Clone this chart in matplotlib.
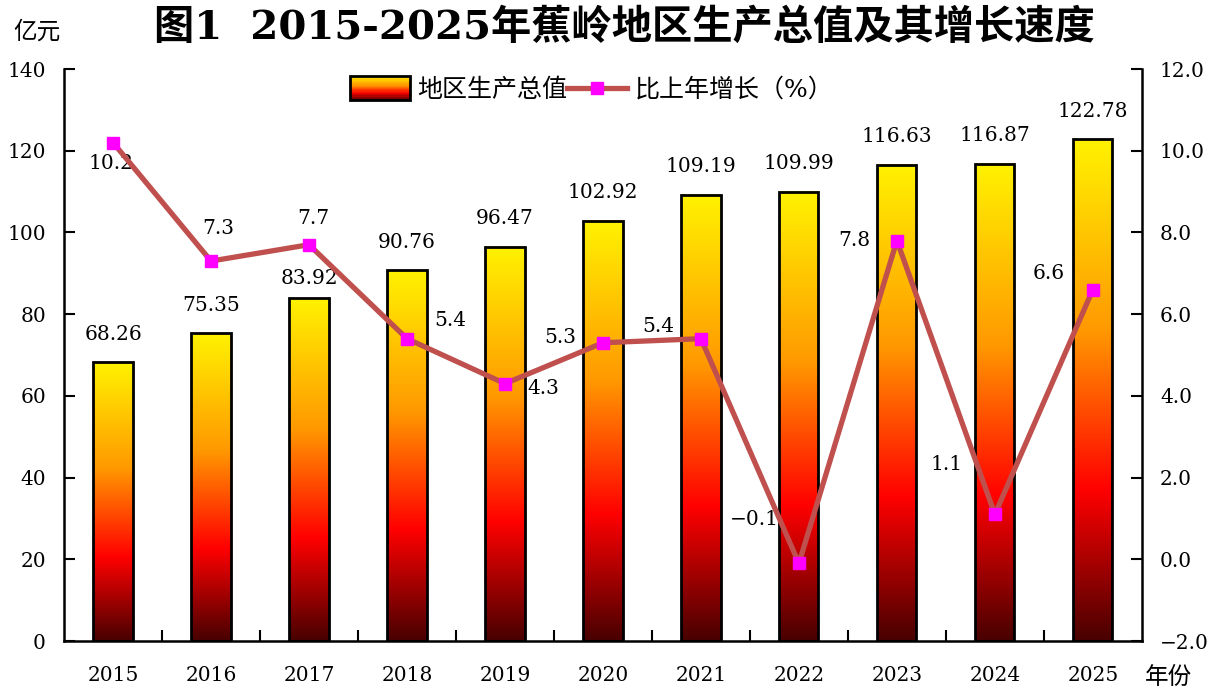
import numpy as np
import matplotlib
matplotlib.use('Agg')
import matplotlib.pyplot as plt
from matplotlib.colors import LinearSegmentedColormap
from matplotlib.patches import Rectangle
from matplotlib.lines import Line2D
from matplotlib.legend_handler import HandlerBase

plt.rcParams['font.family'] = ['DejaVu Serif', 'Noto Sans CJK SC']
plt.rcParams['axes.unicode_minus'] = True

years = ['2015', '2016', '2017', '2018', '2019', '2020', '2021', '2022', '2023', '2024', '2025']
gdp = [68.26, 75.35, 83.92, 90.76, 96.47, 102.92, 109.19, 109.99, 116.63, 116.87, 122.78]
growth = [10.2, 7.3, 7.7, 5.4, 4.3, 5.3, 5.4, -0.1, 7.8, 1.1, 6.6]
# label offsets (pixels) for the value and growth labels
gdp_off = [28, 28, 20, 28, 28, 28, 28, 28, 28, 28, 28]
gr_off = [(-2, -21), (7, 33), (4, 26), (43, 18), (38, -5), (-43, 5),
          (-43, 12), (-45, 44), (-43, 0), (-48, 50), (-44, 16)]

cmap = LinearSegmentedColormap.from_list(
    'bar', [(0, '#480000'), (0.3, '#ff0000'), (0.62, '#ff9900'), (1, '#fff200')])

fig = plt.figure(figsize=(12.22, 6.93), dpi=100)
ax = fig.add_axes([0.0524, 0.075, 0.882, 0.8254])
ax2 = ax.twinx()

x = np.arange(len(years))
w = 0.4
grad = np.linspace(0, 1, 256).reshape(-1, 1)
for xi, v in zip(x, gdp):
    ax.imshow(grad, cmap=cmap, origin='lower', aspect='auto',
              extent=[xi - w / 2, xi + w / 2, 0, v], zorder=2)
bars = ax.bar(x, gdp, w, facecolor='none', edgecolor='black', linewidth=2, zorder=3)
for xi, v, dy in zip(x, gdp, gdp_off):
    ax.annotate(f'{v:.2f}', (xi, v), xytext=(0, dy), textcoords='offset pixels',
                ha='center', va='center', fontsize=14.5)

ax.set_xlim(-0.5, len(years) - 0.5)
ax.set_ylim(0, 140)
ax.set_yticks(range(0, 141, 20))
ax.set_xticks(x)
ax.set_xticklabels(years, fontsize=14.5)
ax.set_xticks(np.arange(0.5, len(years) - 1, 1), minor=True)
ax.tick_params(axis='x', which='major', length=0, pad=18)
ax.tick_params(axis='x', which='minor', direction='in', length=8, width=1.5)
ax.tick_params(axis='y', direction='in', length=8, width=1.5, labelsize=14.5, pad=13)
for s in ['left', 'bottom']:
    ax.spines[s].set_linewidth(1.8)
ax.spines['top'].set_visible(False)
ax.spines['right'].set_visible(False)

ax2.plot(x, growth, color='#c0504d', linewidth=3.8, marker='s', markersize=9,
         markerfacecolor='#ff00ff', markeredgecolor='#ff00ff', zorder=5)
for xi, v, (dx, dy) in zip(x, growth, gr_off):
    ax2.annotate(f'{v:.1f}'.replace('-', '\u2212'), (xi, v), xytext=(dx, dy),
                 textcoords='offset pixels', ha='center', va='center', fontsize=14.5)
ax2.set_ylim(-2, 12)
ax2.set_yticks(np.arange(-2, 12.1, 2))
ax2.set_yticklabels([f'{t:.1f}'.replace('-', '\u2212') for t in np.arange(-2, 12.1, 2)])
ax2.tick_params(axis='y', direction='in', length=8, width=1.5, labelsize=14.5, pad=13)
ax2.spines['right'].set_linewidth(1.8)
ax2.spines['top'].set_visible(False)
ax2.spines['left'].set_visible(False)
ax2.spines['bottom'].set_visible(False)


class GradHandler(HandlerBase):
    def create_artists(self, legend, orig, xd, yd, width, height, fontsize, trans):
        arts = []
        n = 20
        y0 = -yd - 0.2 * height
        hh = height * 1.4
        for i in range(n):
            arts.append(Rectangle((-xd, y0 + hh * i / n), width, hh / n,
                                  facecolor=cmap((i + 0.5) / n), edgecolor='none',
                                  transform=trans))
        arts.append(Rectangle((-xd, y0), width, hh, facecolor='none',
                              edgecolor='black', linewidth=2, transform=trans))
        return arts


bar_h = Rectangle((0, 0), 1, 1)
line_h = Line2D([], [], color='#c0504d', linewidth=3.8, marker='s', markersize=9,
                markerfacecolor='#ff00ff', markeredgecolor='#ff00ff')
fig.legend([bar_h, line_h], ['地区生产总值', '比上年增长（%）'],
           handler_map={Rectangle: GradHandler()}, loc='upper center',
           bbox_to_anchor=(0.484, 0.92), ncol=2, frameon=False, fontsize=18,
           handlelength=2.4, columnspacing=0.0, handletextpad=0.3)

fig.text(0.511, 0.96, '图1  2015-2025年蕉岭地区生产总值及其增长速度',
         ha='center', va='center', fontsize=29, fontweight='bold')
fig.text(0.03, 0.953, '亿元', ha='center', va='center', fontsize=17)
fig.text(0.956, 0.023, '年份', ha='center', va='center', fontsize=17)

fig.savefig('out.png', dpi=100)
